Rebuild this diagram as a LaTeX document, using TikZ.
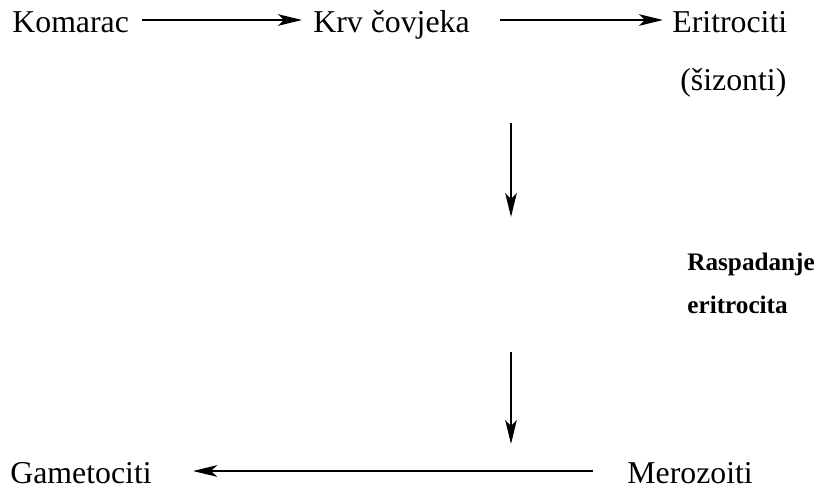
\documentclass[tikz,border=0pt]{standalone}
\usepackage{fontspec}
\setmainfont{Liberation Serif}
\usetikzlibrary{arrows.meta}

\tikzset{
  lbl/.style={anchor=base west, inner sep=0pt, font=\fontsize{15.9}{19}\selectfont},
  blbl/.style={lbl, font=\fontsize{12.6}{15}\selectfont\bfseries},
  flow/.style={line width=1pt, -{Stealth[length=12pt, width=5.8pt, inset=3pt]}},
}

\begin{document}
\begin{tikzpicture}[x=0.5pt, y=-0.5pt]
  \useasboundingbox (0,0) rectangle (816,488);
  %
  % Labels
  \node[lbl] (kom) at (12,32) {Komarac};
  \node[lbl] (krv) at (313,32) {Krv čovjeka};
  \node[lbl] (eri) at (672,32) {Eritrociti};
  \node[lbl] (siz) at (680,90) {(šizonti)};
  \node[blbl] (ras) at (687,270) {Raspadanje};
  \node[blbl] (erc) at (687,313) {eritrocita};
  \node[lbl] (gam) at (10,483) {Gametociti};
  \node[lbl] (mer) at (627,483) {Merozoiti};
  %
  \coordinate (k1) at (0,20);
  \coordinate (g1) at (0,471);
  \coordinate (v1) at (511,123);
  \coordinate (v2) at (511,217);
  \coordinate (v3) at (511,352);
  \coordinate (v4) at (511,444);
  %
  % Connectors
  \draw[flow, shorten <=6.5pt, shorten >=5.5pt] (kom.east |- k1) -- (krv.west |- k1);
  \draw[flow, shorten <=15pt, shorten >=4.5pt] (krv.east |- k1) -- (eri.west |- k1);
  \draw[flow] (v1) -- (v2);
  \draw[flow] (v3) -- (v4);
  \draw[flow, shorten <=17pt, shorten >=20.5pt] (mer.west |- g1) -- (gam.east |- g1);
\end{tikzpicture}
\end{document}
